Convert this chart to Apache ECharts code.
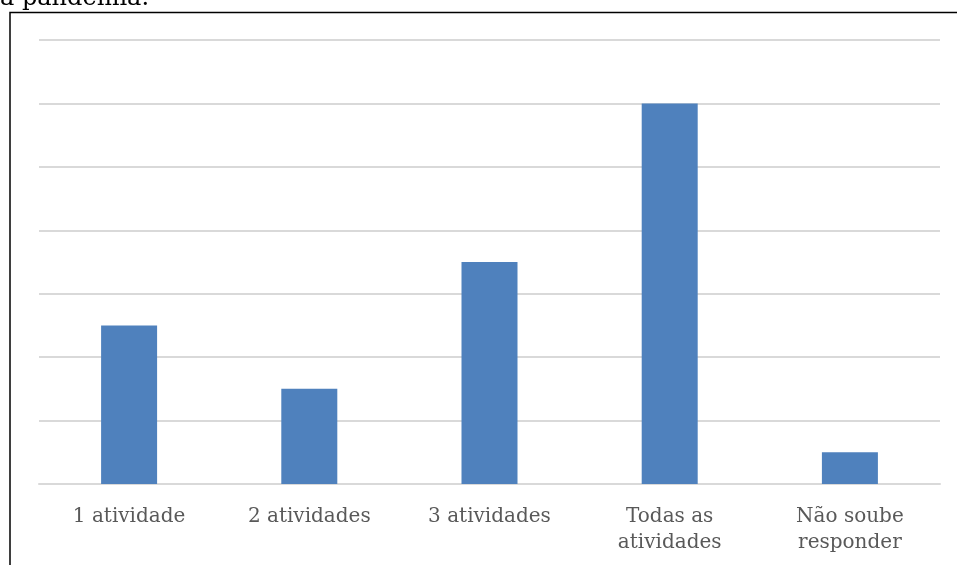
<!DOCTYPE html>
<html>
<head>
<meta charset="utf-8">
<script src="https://cdn.jsdelivr.net/npm/echarts@6/dist/echarts.min.js"></script>
<style>
  html, body { margin: 0; padding: 0; background: #ffffff; }
  #chart { width: 957px; height: 565px; }
</style>
</head>
<body>
<div id="chart"></div>
<script>
// Number of activities carried out
const categories = ['1 atividade', '2 atividades', '3 atividades', 'Todas as\natividades', 'Não soube\nresponder'];
const values = [2.5, 1.5, 3.5, 6, 0.5];
const yMin = 0;
const yMax = 7;
const yInterval = 1;

const chart = echarts.init(document.getElementById('chart'), null, { renderer: 'canvas' });

chart.setOption({
  animation: false,
  backgroundColor: '#ffffff',
  grid: { left: 39, right: 17, top: 40, bottom: 81, containLabel: false },
  xAxis: {
    type: 'category',
    data: categories,
    axisLine: { show: true, lineStyle: { color: '#d9d9d9', width: 2 } },
    axisTick: { show: false },
    axisLabel: {
      color: '#595959',
      fontFamily: 'DejaVu Serif',
      fontSize: 20,
      lineHeight: 26,
      margin: 20,
      interval: 0
    }
  },
  yAxis: {
    type: 'value',
    min: yMin,
    max: yMax,
    interval: yInterval,
    axisLine: { show: false },
    axisTick: { show: false },
    axisLabel: { show: false },
    splitLine: { show: true, lineStyle: { color: '#d9d9d9', width: 2 } }
  },
  series: [{
    type: 'bar',
    data: values,
    barWidth: 56,
    itemStyle: { color: '#4f81bd' }
  }],
  graphic: [
    {
      type: 'text',
      style: {
        x: 0, y: -13,
        text: 'a pandemia.',
        font: '24px "DejaVu Serif"',
        fill: '#000000',
        verticalAlign: 'top'
      }
    },
    {
      type: 'polyline',
      shape: { points: [[10, 565], [10, 12.5], [957, 12.5]] },
      style: { stroke: '#000000', lineWidth: 1.5, fill: null }
    }
  ]
});
</script>
</body>
</html>
